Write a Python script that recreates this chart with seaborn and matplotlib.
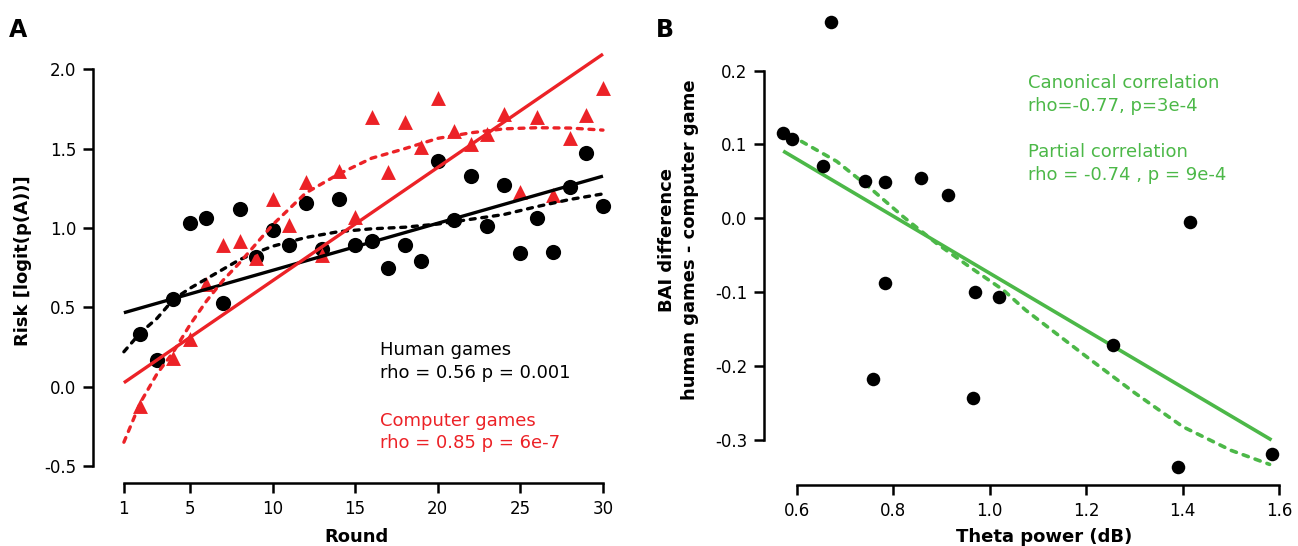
import numpy as np
import pandas as pd
import matplotlib
matplotlib.use("Agg")
import matplotlib.pyplot as plt
import seaborn as sns

# ---------------- data: panel A ----------------
human_rounds = list(range(2, 31))
human_risk = [0.33, 0.17, 0.55, 1.03, 1.06, 0.53, 1.12, 0.82, 0.99, 0.89,
              1.16, 0.87, 1.18, 0.89, 0.92, 0.75, 0.89, 0.79, 1.42, 1.05,
              1.33, 1.01, 1.27, 0.84, 1.06, 0.85, 1.26, 1.47, 1.14]

computer_rounds = [2] + list(range(4, 31))
computer_risk = [-0.12, 0.18, 0.30, 0.65, 0.89, 0.92, 0.81, 1.18, 1.02, 1.29,
                 0.83, 1.36, 1.07, 1.70, 1.35, 1.67, 1.51, 1.82, 1.61, 1.53,
                 1.59, 1.72, 1.23, 1.70, 1.21, 1.57, 1.71, 1.88]

# fitted lines
linfit_rounds = [1, 30]
human_linfit = [0.466, 1.327]
computer_linfit = [0.025, 2.096]

curve_rounds = [1, 2, 3, 4, 5, 6, 7, 8, 9, 10, 12, 14, 16, 18, 20, 22, 24, 26, 28, 30]
human_curve = [0.22, 0.34, 0.43, 0.55, 0.62, 0.68, 0.74, 0.80, 0.845, 0.885,
               0.94, 0.977, 0.995, 1.005, 1.025, 1.055, 1.085, 1.135, 1.18, 1.215]
computer_curve = [-0.35, -0.10, 0.08, 0.22, 0.39, 0.54, 0.67, 0.78, 0.90, 1.02,
                  1.22, 1.34, 1.44, 1.50, 1.565, 1.60, 1.625, 1.632, 1.63, 1.617]

a_xticks = [1, 5, 10, 15, 20, 25, 30]
a_yticks = [-0.5, 0.0, 0.5, 1.0, 1.5, 2.0]

# ---------------- data: panel B ----------------
theta_power = [0.672, 0.572, 0.591, 0.655, 0.742, 0.783, 0.858, 0.913, 1.415,
               0.782, 0.759, 0.970, 1.020, 0.966, 1.256, 1.390, 1.584]
bai_diff = [0.266, 0.116, 0.107, 0.071, 0.050, 0.049, 0.054, 0.032, -0.005,
            -0.088, -0.218, -0.100, -0.107, -0.243, -0.172, -0.336, -0.319]

canon_x = [0.572, 1.584]
canon_y = [0.091, -0.300]
partial_x = [0.610, 0.683, 0.752, 0.821, 0.890, 0.959, 1.028, 1.074, 1.20, 1.30, 1.40, 1.50, 1.580]
partial_y = [0.104, 0.077, 0.041, 0.002, -0.034, -0.066, -0.097, -0.124, -0.187, -0.236, -0.282, -0.314, -0.333]

b_xticks = [0.6, 0.8, 1.0, 1.2, 1.4, 1.6]
b_yticks = [-0.3, -0.2, -0.1, 0.0, 0.1, 0.2]

# ---------------- style ----------------
sns.set_style("ticks")
plt.rcParams["font.family"] = ["DejaVu Sans"]
plt.rcParams["axes.unicode_minus"] = False
plt.rcParams["text.color"] = "black"
plt.rcParams["axes.labelcolor"] = "black"
plt.rcParams["axes.edgecolor"] = "black"
plt.rcParams["xtick.color"] = "black"
plt.rcParams["ytick.color"] = "black"

RED = "#ec2227"
BLACK = "#000000"
GREEN = "#4cb848"
DOT = (0, (1.5, 2.0))

W, H = 1298, 546
fig = plt.figure(figsize=(W / 100, H / 100), dpi=100)

axA = fig.add_axes([93 / W, 63 / H, 526.5 / W, 421.6 / H])
axB = fig.add_axes([764 / W, 61 / H, 524.9 / W, 475 / H])


def style_axes(ax, xb, yb, xticks, yticks, fmt):
    for s in ["top", "right"]:
        ax.spines[s].set_visible(False)
    for s in ["left", "bottom"]:
        ax.spines[s].set_linewidth(1.8)
        ax.spines[s].set_color("black")
    ax.spines["bottom"].set_bounds(*xb)
    ax.spines["left"].set_bounds(*yb)
    ax.set_xticks(xticks)
    ax.set_yticks(yticks)
    ax.set_xticklabels([fmt(v) for v in xticks])
    ax.set_yticklabels(["%.1f" % v for v in yticks])
    ax.tick_params(direction="out", length=7, width=1.8, pad=5,
                   labelsize=12, colors="black")


# ---------------- panel A ----------------
dfh = pd.DataFrame({"round": human_rounds, "risk": human_risk})
dfc = pd.DataFrame({"round": computer_rounds, "risk": computer_risk})
sns.scatterplot(data=dfh, x="round", y="risk", ax=axA, color=BLACK, marker="o",
                s=120, linewidth=0, zorder=3, clip_on=False)
sns.scatterplot(data=dfc, x="round", y="risk", ax=axA, color=RED, marker="^",
                s=115, linewidth=0, zorder=4, clip_on=False)

lw = 2.4
sns.lineplot(x=linfit_rounds, y=human_linfit, ax=axA, color=BLACK, linewidth=lw,
             zorder=5, solid_capstyle="butt", clip_on=False)
sns.lineplot(x=curve_rounds, y=human_curve, ax=axA, color=BLACK, linewidth=lw,
             linestyle=DOT, dash_capstyle="round", zorder=5, clip_on=False)
sns.lineplot(x=linfit_rounds, y=computer_linfit, ax=axA, color=RED, linewidth=lw,
             zorder=6, solid_capstyle="butt", clip_on=False)
sns.lineplot(x=curve_rounds, y=computer_curve, ax=axA, color=RED, linewidth=lw,
             linestyle=DOT, dash_capstyle="round", zorder=6, clip_on=False)

axA.set_xlim(-0.87, 31)
axA.set_ylim(-0.607, 2.05)
style_axes(axA, (1, 30), (-0.5, 2.0), a_xticks, a_yticks, lambda v: "%d" % v)
axA.set_xlabel("Round", fontsize=13, fontweight="bold")
axA.set_ylabel("Risk [logit(p(A))]", fontsize=13, fontweight="bold")
axA.xaxis.set_label_coords(0.5, -0.107)
axA.yaxis.set_label_coords(-0.116, 0.528)

axA.text(16.5, 0.20, "Human games", fontsize=13, color=BLACK, va="baseline")
axA.text(16.5, 0.053, "rho = 0.56 p = 0.001", fontsize=13, color=BLACK, va="baseline")
axA.text(16.5, -0.246, "Computer games", fontsize=13, color=RED, va="baseline")
axA.text(16.5, -0.388, "rho = 0.85 p = 6e-7", fontsize=13, color=RED, va="baseline")

# ---------------- panel B ----------------
lwb = 2.6
sns.lineplot(x=canon_x, y=canon_y, ax=axB, color=GREEN, linewidth=lwb,
             solid_capstyle="butt", zorder=2)
sns.lineplot(x=partial_x, y=partial_y, ax=axB, color=GREEN, linewidth=lwb,
             linestyle=DOT, dash_capstyle="round", zorder=2, sort=False)
dfb = pd.DataFrame({"theta": theta_power, "bai": bai_diff})
sns.scatterplot(data=dfb, x="theta", y="bai", ax=axB, color=BLACK, s=95,
                linewidth=0, zorder=3, clip_on=False)

axB.set_xlim(0.5322, 1.62)
axB.set_ylim(-0.3609, 0.2819)
style_axes(axB, (0.6, 1.6), (-0.3, 0.2), b_xticks, b_yticks, lambda v: "%.1f" % v)
axB.set_xlabel("Theta power (dB)", fontsize=13, fontweight="bold")
axB.set_ylabel("BAI difference\nhuman games - computer game", fontsize=13,
               fontweight="bold", linespacing=1.35)
axB.xaxis.set_label_coords(0.534, -0.0905)
axB.yaxis.set_label_coords(-0.124, 0.516)

axB.text(1.08, 0.177, "Canonical correlation", fontsize=13, color=GREEN, va="baseline")
axB.text(1.08, 0.1456, "rho=-0.77, p=3e-4", fontsize=13, color=GREEN, va="baseline")
axB.text(1.08, 0.0834, "Partial correlation", fontsize=13, color=GREEN, va="baseline")
axB.text(1.08, 0.0518, "rho = -0.74 , p = 9e-4", fontsize=13, color=GREEN, va="baseline")

# panel letters
fig.text(9 / W, 1 - 36.7 / H, "A", fontsize=17, fontweight="bold", va="baseline")
fig.text(656 / W, 1 - 36.7 / H, "B", fontsize=17, fontweight="bold", va="baseline")

fig.savefig("out.png", dpi=100)
